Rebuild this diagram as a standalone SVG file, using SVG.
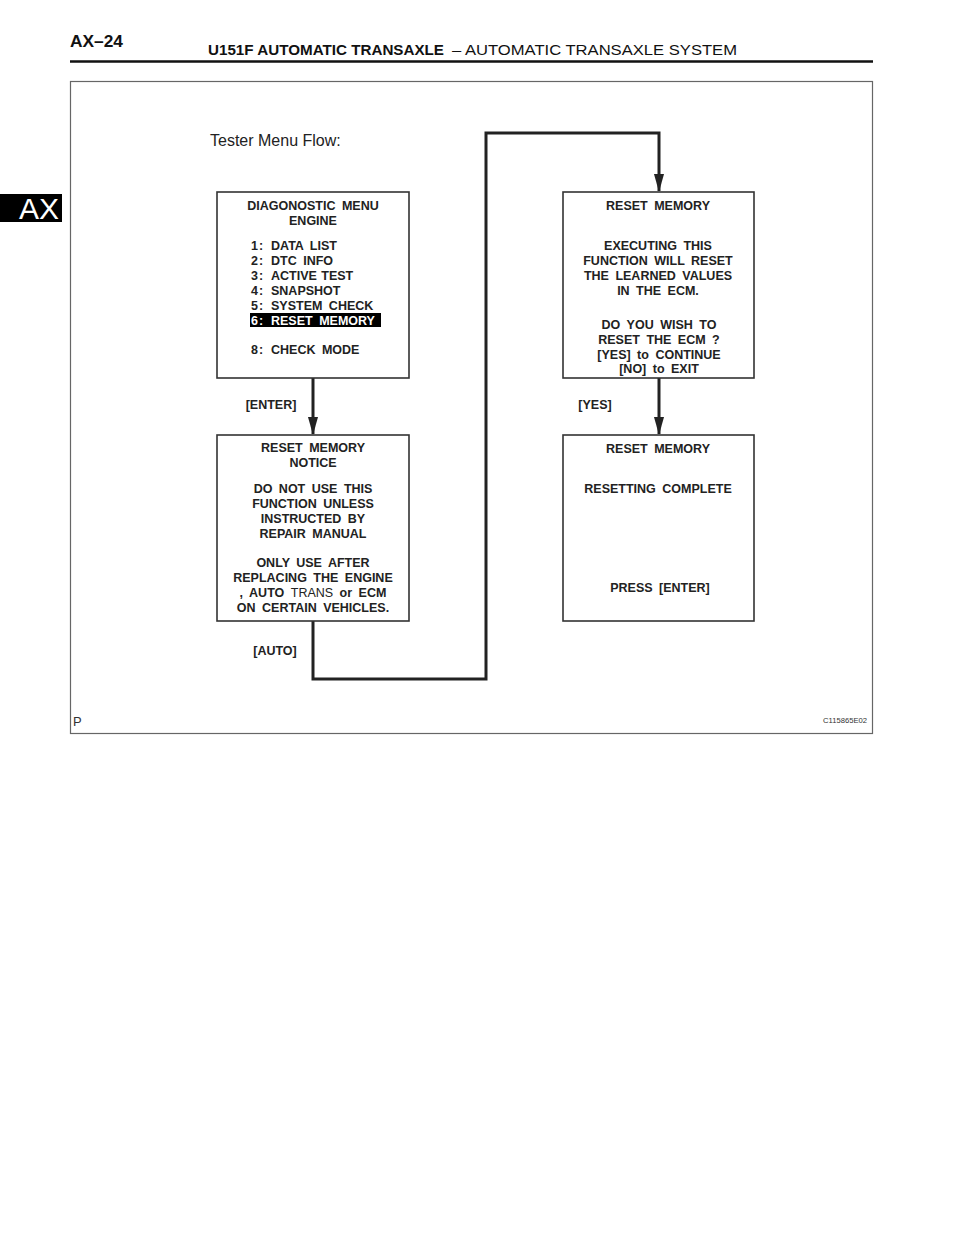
<svg xmlns="http://www.w3.org/2000/svg" width="960" height="1242" viewBox="0 0 960 1242">
<style>
.t{font-family:"Liberation Sans",Arial,sans-serif;font-weight:bold;font-size:12.5px;fill:#222;word-spacing:3px;}
.c{text-anchor:middle;}
.box{fill:#fff;stroke:#333;stroke-width:1.6;}
.conn{fill:none;stroke:#222;stroke-width:3;}
</style>
<defs>
<marker id="ah" markerWidth="18" markerHeight="10" refX="17" refY="5" orient="auto" markerUnits="userSpaceOnUse" viewBox="0 0 18 10">
<path d="M0,0 L18,5 L0,10 Z" fill="#222"/>
</marker>
</defs>
<rect width="960" height="1242" fill="#fff"/>
<g id="header">
<text x="70" y="47" font-family="Liberation Sans,Arial,sans-serif" font-weight="bold" font-size="17" fill="#111" textLength="53" lengthAdjust="spacingAndGlyphs">AX–24</text>
<text x="208" y="55" font-family="Liberation Sans,Arial,sans-serif" font-weight="bold" font-size="15.5" fill="#111" textLength="236" lengthAdjust="spacingAndGlyphs">U151F AUTOMATIC TRANSAXLE</text>
<text x="452" y="55" font-family="Liberation Sans,Arial,sans-serif" font-size="15.5" fill="#111" textLength="285" lengthAdjust="spacingAndGlyphs">–  AUTOMATIC TRANSAXLE SYSTEM</text>
<line x1="70" y1="61.5" x2="873" y2="61.5" stroke="#111" stroke-width="2.5"/>
</g>
<g id="tab">
<rect x="0" y="194" width="62" height="28" fill="#000"/>
<text x="59" y="219" text-anchor="end" font-family="Liberation Sans,Arial,sans-serif" font-size="30" fill="#fff">AX</text>
</g>
<rect id="frame" x="70.5" y="81.5" width="802" height="652" fill="none" stroke="#666" stroke-width="1.2"/>
<text x="210" y="146" font-family="Liberation Sans,Arial,sans-serif" font-size="16" fill="#222">Tester Menu Flow:</text>
<g id="connectors">
<line class="conn" x1="313" y1="378" x2="313" y2="434" marker-end="url(#ah)"/>
<line class="conn" x1="659" y1="378" x2="659" y2="434" marker-end="url(#ah)"/>
<polyline class="conn" points="313,621 313,679 486,679 486,133 659,133 659,191" marker-end="url(#ah)"/>
<text class="t c" x="271" y="409">[ENTER]</text>
<text class="t c" x="595" y="409">[YES]</text>
<text class="t c" x="275" y="655">[AUTO]</text>
</g>
<g id="diag-menu">
<rect class="box" x="217" y="192" width="192" height="186"/>
<text class="t c" x="313" y="210">DIAGONOSTIC MENU</text>
<text class="t c" x="313" y="225">ENGINE</text>
<text class="t" y="250"><tspan x="251">1</tspan><tspan x="259">:</tspan><tspan x="271">DATA LIST</tspan></text>
<text class="t" y="265"><tspan x="251">2</tspan><tspan x="259">:</tspan><tspan x="271">DTC INFO</tspan></text>
<text class="t" y="280" style="word-spacing:1px"><tspan x="251">3</tspan><tspan x="259">:</tspan><tspan x="271">ACTIVE TEST</tspan></text>
<text class="t" y="295"><tspan x="251">4</tspan><tspan x="259">:</tspan><tspan x="271">SNAPSHOT</tspan></text>
<text class="t" y="310"><tspan x="251">5</tspan><tspan x="259">:</tspan><tspan x="271">SYSTEM CHECK</tspan></text>
<rect x="250" y="313" width="131" height="14" fill="#000"/>
<text class="t" y="325" style="fill:#fff"><tspan x="251">6</tspan><tspan x="259">:</tspan><tspan x="271">RESET MEMORY</tspan></text>
<text class="t" y="354"><tspan x="251">8</tspan><tspan x="259">:</tspan><tspan x="271">CHECK MODE</tspan></text>
</g>
<g id="reset-confirm">
<rect class="box" x="563" y="192" width="191" height="186"/>
<text class="t c" x="658" y="210">RESET MEMORY</text>
<text class="t c" x="658" y="250">EXECUTING THIS</text>
<text class="t c" x="658" y="265">FUNCTION WILL RESET</text>
<text class="t c" x="658" y="280">THE LEARNED VALUES</text>
<text class="t c" x="658" y="295">IN THE ECM.</text>
<text class="t c" x="659" y="329">DO YOU WISH TO</text>
<text class="t c" x="659" y="344">RESET THE ECM ?</text>
<text class="t c" x="659" y="359">[YES] to CONTINUE</text>
<text class="t c" x="659" y="373">[NO] to EXIT</text>
</g>
<g id="reset-notice">
<rect class="box" x="217" y="435" width="192" height="186"/>
<text class="t c" x="313" y="452">RESET MEMORY</text>
<text class="t c" x="313" y="467">NOTICE</text>
<text class="t c" x="313" y="493">DO NOT USE THIS</text>
<text class="t c" x="313" y="508">FUNCTION UNLESS</text>
<text class="t c" x="313" y="523">INSTRUCTED BY</text>
<text class="t c" x="313" y="538">REPAIR MANUAL</text>
<text class="t c" x="313" y="567">ONLY USE AFTER</text>
<text class="t c" x="313" y="582">REPLACING THE ENGINE</text>
<text class="t c" x="313" y="597">, AUTO <tspan style="font-weight:normal">TRANS</tspan> or ECM</text>
<text class="t c" x="313" y="612">ON CERTAIN VEHICLES.</text>
</g>
<g id="reset-complete">
<rect class="box" x="563" y="435" width="191" height="186"/>
<text class="t c" x="658" y="453">RESET MEMORY</text>
<text class="t c" x="658" y="493">RESETTING COMPLETE</text>
<text class="t c" x="660" y="592">PRESS [ENTER]</text>
</g>
<g id="footer">
<text x="73" y="726" font-family="Liberation Sans,Arial,sans-serif" font-size="13" fill="#333">P</text>
<text x="867" y="723" text-anchor="end" font-family="Liberation Sans,Arial,sans-serif" font-size="8" fill="#333" textLength="44" lengthAdjust="spacingAndGlyphs">C115865E02</text>
</g>
</svg>
